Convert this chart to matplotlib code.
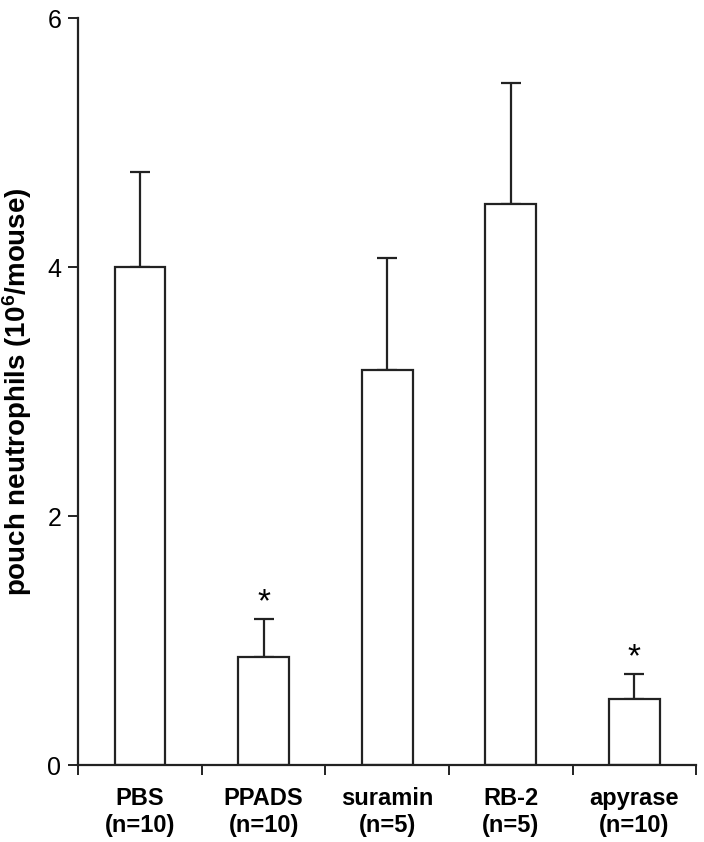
import numpy as np
import matplotlib
matplotlib.use('Agg')
import matplotlib.pyplot as plt

plt.rcParams['font.family'] = ['Liberation Sans', 'DejaVu Sans']
plt.rcParams['mathtext.default'] = 'regular'

#%% data
groups = ['PBS', 'PPADS', 'suramin', 'RB-2', 'apyrase']
n_labels = ['(n=10)', '(n=10)', '(n=5)', '(n=5)', '(n=10)']
means = [4.0, 0.87, 3.17, 4.51, 0.53]
sem = [0.76, 0.30, 0.90, 0.97, 0.20]
signif = [False, True, False, False, True]

#%% plot
fig = plt.figure(figsize=(7.04, 8.42), dpi=100)
ax = fig.add_axes([0.111, 0.0914, 0.878, 0.8872])

x = np.arange(len(groups))
ax.bar(x, means, width=0.41, color='white', edgecolor='#222222', linewidth=1.6, zorder=2)
ax.errorbar(x, means, yerr=[np.zeros(len(sem)), sem], fmt='none', ecolor='#222222',
            elinewidth=1.6, capsize=7, capthick=1.6, zorder=1)

for i in range(len(groups)):
    if signif[i]:
        ax.text(x[i], means[i] + sem[i] + 0.13, '*', ha='center', va='center', fontsize=24)

ax.set_xlim(-0.5, len(groups) - 0.5)
ax.set_ylim(0, 6)
ax.set_yticks([0, 2, 4, 6])
ax.set_xticks(np.arange(len(groups) + 1) - 0.5)
ax.set_xticklabels([])
ax.set_xticks(x, minor=True)
ax.set_xticklabels([g + '\n' + n for g, n in zip(groups, n_labels)], minor=True,
                   fontweight='bold', fontsize=17)
ax.tick_params(axis='x', which='minor', length=0, pad=16)
ax.tick_params(axis='x', which='major', length=7, width=1.4, color='#222222')
ax.tick_params(axis='y', length=7, width=1.4, color='#222222', labelsize=18, pad=5)

for s in ['top', 'right']:
    ax.spines[s].set_visible(False)
for s in ['left', 'bottom']:
    ax.spines[s].set_linewidth(1.6)
    ax.spines[s].set_color('#222222')

ax.set_ylabel('pouch neutrophils (10$^6$/mouse)', fontweight='bold', fontsize=20, labelpad=10)

plt.savefig('out.png', dpi=100)
